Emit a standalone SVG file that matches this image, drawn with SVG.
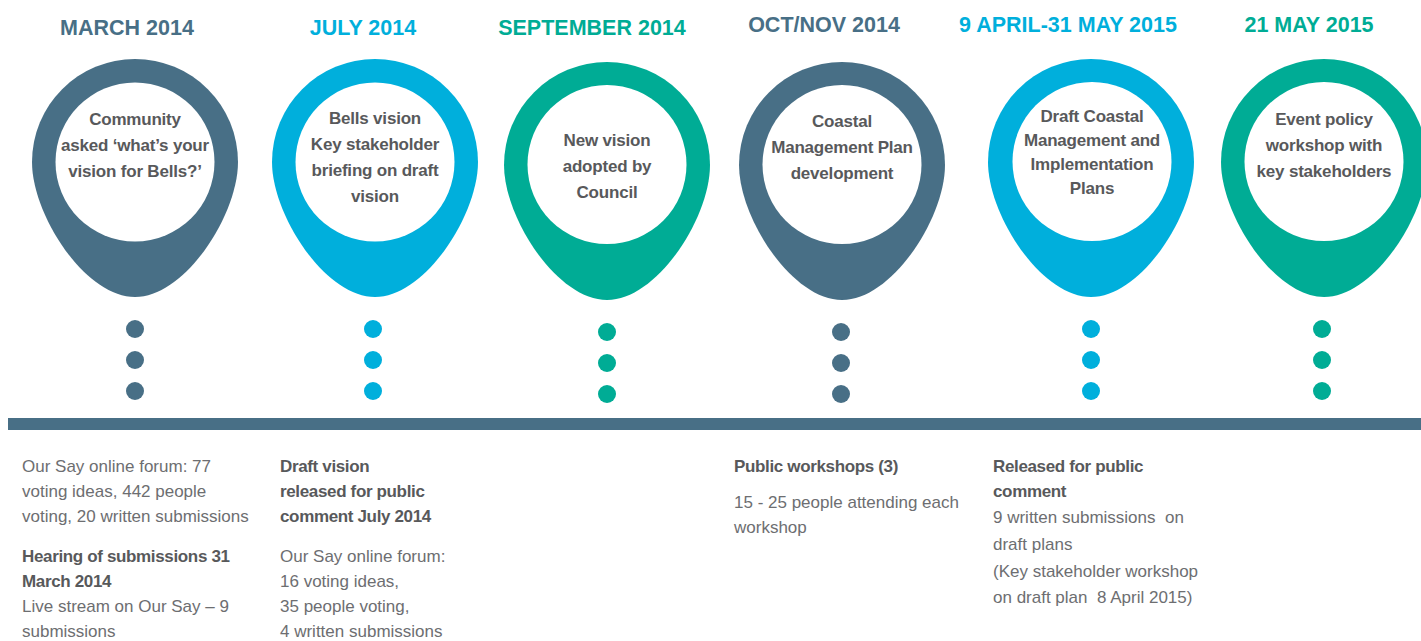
<svg xmlns="http://www.w3.org/2000/svg" width="1421" height="641" viewBox="0 0 1421 641">
<defs>
<style>
.title{font-family:"Liberation Sans",Arial,sans-serif;font-weight:bold;font-size:21.5px;text-anchor:middle}
.nt{font-family:"Liberation Sans",Arial,sans-serif;font-weight:bold;font-size:17px;fill:#58595b;text-anchor:middle;letter-spacing:-0.2px}
.bt{font-family:"Liberation Sans",Arial,sans-serif;font-size:17px;fill:#6d6e71}
.bb{font-family:"Liberation Sans",Arial,sans-serif;font-weight:bold;font-size:17px;fill:#58595b;letter-spacing:-0.35px}
.slate{fill:#486f86}
.blue{fill:#00afdc}
.teal{fill:#00ac95}
</style>
<path id="pin" d="M-103,0 A103,103 0 0 1 103,0 C103,53 50,135 0,135 C-50,135 -103,53 -103,0 Z"/>
</defs>
<rect width="1421" height="641" fill="#ffffff"/>

<g id="node1">
<text class="title slate" x="127" y="35">MARCH 2014</text>
<use href="#pin" class="slate" x="135" y="162"/>
<circle cx="135" cy="162" r="79.5" fill="#fff"/>
<text class="nt" x="135" y="125">Community</text>
<text class="nt" x="135" y="151">asked ‘what’s your</text>
<text class="nt" x="135" y="177">vision for Bells?’</text>
<g class="slate"><circle cx="135" cy="329" r="9"/><circle cx="135" cy="360" r="9"/><circle cx="135" cy="391" r="9"/></g>
</g>

<g id="node2">
<text class="title blue" x="363" y="35">JULY 2014</text>
<use href="#pin" class="blue" x="375" y="162"/>
<circle cx="375" cy="162" r="79.5" fill="#fff"/>
<text class="nt" x="375" y="124">Bells vision</text>
<text class="nt" x="375" y="150">Key stakeholder</text>
<text class="nt" x="375" y="176">briefing on draft</text>
<text class="nt" x="375" y="202">vision</text>
<g class="blue"><circle cx="373" cy="329" r="9"/><circle cx="373" cy="360" r="9"/><circle cx="373" cy="391" r="9"/></g>
</g>

<g id="node3">
<text class="title teal" x="592" y="35">SEPTEMBER 2014</text>
<use href="#pin" class="teal" x="607" y="165"/>
<circle cx="607" cy="164.5" r="79.5" fill="#fff"/>
<text class="nt" x="607" y="146">New vision</text>
<text class="nt" x="607" y="172">adopted by</text>
<text class="nt" x="607" y="198">Council</text>
<g class="teal"><circle cx="607" cy="332" r="9"/><circle cx="607" cy="363" r="9"/><circle cx="607" cy="394" r="9"/></g>
</g>

<g id="node4">
<text class="title slate" x="824" y="32">OCT/NOV 2014</text>
<use href="#pin" class="slate" x="842" y="165"/>
<circle cx="842" cy="164.5" r="79.5" fill="#fff"/>
<text class="nt" x="842" y="127">Coastal</text>
<text class="nt" x="842" y="153">Management Plan</text>
<text class="nt" x="842" y="179">development</text>
<g class="slate"><circle cx="841" cy="332" r="9"/><circle cx="841" cy="363" r="9"/><circle cx="841" cy="394" r="9"/></g>
</g>

<g id="node5">
<text class="title blue" x="1068" y="32">9 APRIL-31 MAY 2015</text>
<use href="#pin" class="blue" x="1091" y="162"/>
<circle cx="1092" cy="161.5" r="79.5" fill="#fff"/>
<text class="nt" x="1092" y="122">Draft Coastal</text>
<text class="nt" x="1092" y="146">Management and</text>
<text class="nt" x="1092" y="170">Implementation</text>
<text class="nt" x="1092" y="194">Plans</text>
<g class="blue"><circle cx="1091" cy="329" r="9"/><circle cx="1091" cy="360" r="9"/><circle cx="1091" cy="391" r="9"/></g>
</g>

<g id="node6">
<text class="title teal" x="1309" y="32">21 MAY 2015</text>
<use href="#pin" class="teal" x="1324" y="162"/>
<circle cx="1324" cy="161.5" r="79.5" fill="#fff"/>
<text class="nt" x="1324" y="125">Event policy</text>
<text class="nt" x="1324" y="151">workshop with</text>
<text class="nt" x="1324" y="177">key stakeholders</text>
<g class="teal"><circle cx="1322" cy="329" r="9"/><circle cx="1322" cy="360" r="9"/><circle cx="1322" cy="391" r="9"/></g>
</g>

<g id="connectors">
<rect x="8" y="418" width="1413" height="12" class="slate"/>
</g>

<g id="notes1">
<text class="bt" x="22" y="472">Our Say online forum: 77</text>
<text class="bt" x="22" y="497">voting ideas, 442 people</text>
<text class="bt" x="22" y="522">voting, 20 written submissions</text>
<text class="bb" x="22" y="562">Hearing of submissions 31</text>
<text class="bb" x="22" y="587">March 2014</text>
<text class="bt" x="22" y="612">Live stream on Our Say – 9</text>
<text class="bt" x="22" y="637">submissions</text>
</g>

<g id="notes2">
<text class="bb" x="280" y="472">Draft vision</text>
<text class="bb" x="280" y="497">released for public</text>
<text class="bb" x="280" y="522">comment July 2014</text>
<text class="bt" x="280" y="562">Our Say online forum:</text>
<text class="bt" x="280" y="587">16 voting ideas,</text>
<text class="bt" x="280" y="612">35 people voting,</text>
<text class="bt" x="280" y="637">4 written submissions</text>
</g>

<g id="notes4">
<text class="bb" x="734" y="472">Public workshops (3)</text>
<text class="bt" x="734" y="508">15 - 25 people attending each</text>
<text class="bt" x="734" y="533">workshop</text>
</g>

<g id="notes5">
<text class="bb" x="993" y="472">Released for public</text>
<text class="bb" x="993" y="497">comment</text>
<text class="bt" x="993" y="523" xml:space="preserve">9 written submissions  on</text>
<text class="bt" x="993" y="550">draft plans</text>
<text class="bt" x="993" y="577">(Key stakeholder workshop</text>
<text class="bt" x="993" y="603" xml:space="preserve">on draft plan  8 April 2015)</text>
</g>
</svg>
